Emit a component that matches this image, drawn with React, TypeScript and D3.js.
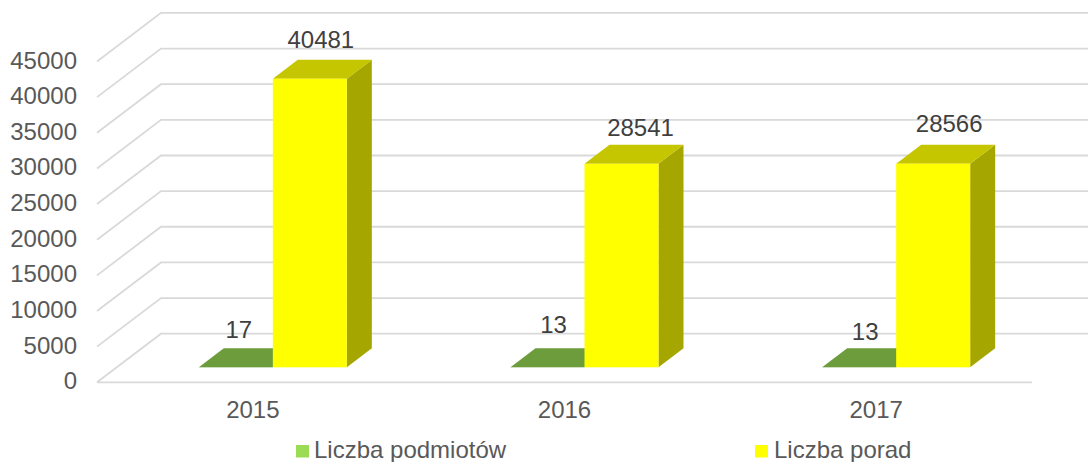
import React from "react";
import * as d3 from "d3";

const categories = ["2015", "2016", "2017"];
const podmioty = [17, 13, 13];
const porady = [40481, 28541, 28566];
const yTicks = [0, 5000, 10000, 15000, 20000, 25000, 30000, 35000, 40000, 45000];
const seriesNames = ["Liczba podmiotów", "Liczba porad"];

// layout
const W = 1088, H = 462;
const frontLeft = 97, frontRight = 1032, frontBase = 382.3;
const wallDx = 64, wallDy = 48.6;
const barDx = 25, barDy = 19;
const barBase = 367.3;
const barW = 74;
const font = "'Liberation Sans', Arial, sans-serif";
const fs = 24;

const x = d3.scaleBand<string>().domain(categories).range([frontLeft, frontRight]);
const yLen = d3.scaleLinear().domain([0, 45000]).range([0, 320.8]);

const labelOffsets = [
  { small: [3, -29], big: [11, -30.5] },
  { small: [6, -34.5], big: [19, -28] },
  { small: [6, -27], big: [16, -31.5] },
];

function pts(p: [number, number][]) {
  return d3.line()(p) + "Z";
}

function Box({ x0, h, front, top, side }: { x0: number; h: number; front: string; top: string; side: string }) {
  const y0 = barBase, y1 = barBase - h, x1 = x0 + barW;
  return (
    <g>
      <path d={pts([[x1, y0], [x1 + barDx, y0 - barDy], [x1 + barDx, y1 - barDy], [x1, y1]])} fill={side} />
      <path d={pts([[x0, y1], [x1, y1], [x1 + barDx, y1 - barDy], [x0 + barDx, y1 - barDy]])} fill={top} />
      <rect x={x0} y={y1} width={barW} height={h} fill={front} />
    </g>
  );
}

export default function App() {
  return (
    <svg width={W} height={H} style={{ position: "absolute", left: 0, top: 0, background: "#fff" }} fontFamily={font}>
      {yTicks.map((t) => {
        const yFront = frontBase - yLen(t);
        const yBack = yFront - wallDy;
        return (
          <g key={t}>
            <path d={d3.line()([[frontLeft, yFront], [frontLeft + wallDx, yBack], [W, yBack]]) as string} fill="none" stroke="#d9d9d9" strokeWidth={1.8} />
            <text x={77} y={yFront + 7} textAnchor="end" fontSize={fs} fill="#595959">{t}</text>
          </g>
        );
      })}
      <line x1={frontLeft} x2={frontRight} y1={frontBase} y2={frontBase} stroke="#d9d9d9" strokeWidth={1.8} />
      {categories.map((c, i) => {
        const cx = (x(c) as number) + x.bandwidth() / 2;
        const splitX = cx + 20;
        const smallX = splitX - barW;
        const o = labelOffsets[i];
        const hSmall = yLen(podmioty[i]);
        const hBig = yLen(porady[i]);
        return (
          <g key={c}>
            <Box x0={smallX} h={hSmall} front="#70a03c" top="#6c9c3c" side="#557a2e" />
            <Box x0={splitX} h={hBig} front="#ffff00" top="#c6c600" side="#a6a600" />
            <text x={smallX + barW / 2 + o.small[0]} y={barBase - hSmall + o.small[1]} textAnchor="middle" fontSize={fs} fill="#404040">{podmioty[i]}</text>
            <text x={splitX + barW / 2 + o.big[0]} y={barBase - hBig + o.big[1]} textAnchor="middle" fontSize={fs} fill="#404040">{porady[i]}</text>
            <text x={cx} y={417.5} textAnchor="middle" fontSize={fs} fill="#595959">{c}</text>
          </g>
        );
      })}
      <rect x={296} y={445} width={13} height={12.5} fill="#9cdc54" />
      <text x={314} y={458} fontSize={fs} fill="#595959">{seriesNames[0]}</text>
      <rect x={755} y={445} width={13} height={12.5} fill="#ffff00" />
      <text x={774} y={458} fontSize={fs} fill="#595959">{seriesNames[1]}</text>
    </svg>
  );
}
